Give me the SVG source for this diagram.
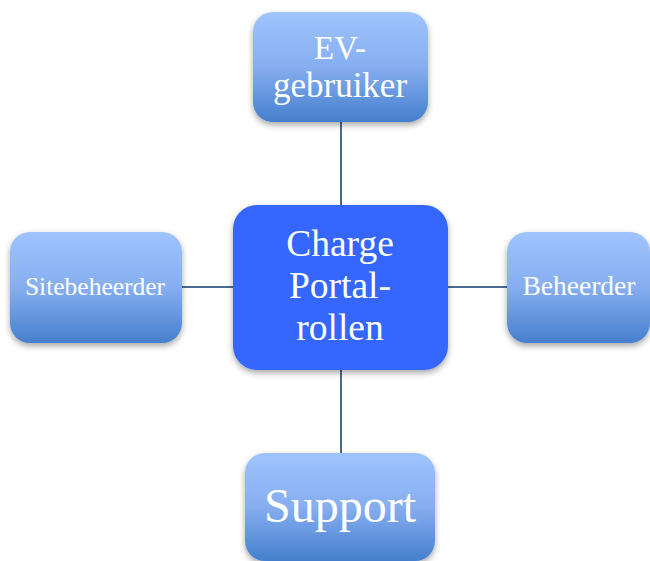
<svg xmlns="http://www.w3.org/2000/svg" width="650" height="561" viewBox="0 0 650 561">
  <style>
    .role { fill: url(#roleFill); filter: url(#shadow); }
    .hub { fill: #3566fd; filter: url(#shadow); }
    .label { font-family: "Liberation Serif", "DejaVu Serif", serif; fill: #ffffff; text-anchor: middle; }
    .link { stroke: #4b6a92; stroke-width: 2; fill: none; }
  </style>
  <defs>
    <linearGradient id="roleFill" x1="0" y1="0" x2="0" y2="1">
      <stop offset="0" stop-color="#9fc4fd"/>
      <stop offset="0.5" stop-color="#86aef0"/>
      <stop offset="1" stop-color="#457fcd"/>
    </linearGradient>
    <filter id="shadow" x="-20%" y="-20%" width="140%" height="150%">
      <feDropShadow dx="0" dy="3" stdDeviation="3" flood-color="#000000" flood-opacity="0.35"/>
    </filter>
  </defs>

  <!-- connectors from the central node to each role -->
  <g id="connectors">
    <line class="link" x1="341" y1="122" x2="341" y2="205"/>
    <line class="link" x1="341" y1="370" x2="341" y2="453"/>
    <line class="link" x1="182" y1="287" x2="233" y2="287"/>
    <line class="link" x1="448" y1="287" x2="507" y2="287"/>
  </g>

  <g id="ev-gebruiker">
    <rect class="role" x="253" y="12" width="175" height="110" rx="20"/>
    <text class="label" x="340" y="59" font-size="33">EV-</text>
    <text class="label" x="340" y="97" font-size="35">gebruiker</text>
  </g>

  <g id="charge-portal">
    <rect class="hub" x="233" y="205" width="215" height="165" rx="24"/>
    <text class="label" x="340" y="256" font-size="37.5">Charge</text>
    <text class="label" x="340" y="298" font-size="37.5">Portal-</text>
    <text class="label" x="340" y="340" font-size="37.5">rollen</text>
  </g>

  <g id="sitebeheerder">
    <rect class="role" x="10" y="232" width="172" height="111" rx="20"/>
    <text class="label" x="95" y="295" font-size="25.5">Sitebeheerder</text>
  </g>

  <g id="beheerder">
    <rect class="role" x="507" y="232" width="143" height="111" rx="20"/>
    <text class="label" x="579" y="295" font-size="27.5">Beheerder</text>
  </g>

  <g id="support">
    <rect class="role" x="245" y="453" width="190" height="108" rx="20"/>
    <text class="label" x="340" y="522" font-size="48">Support</text>
  </g>
</svg>
